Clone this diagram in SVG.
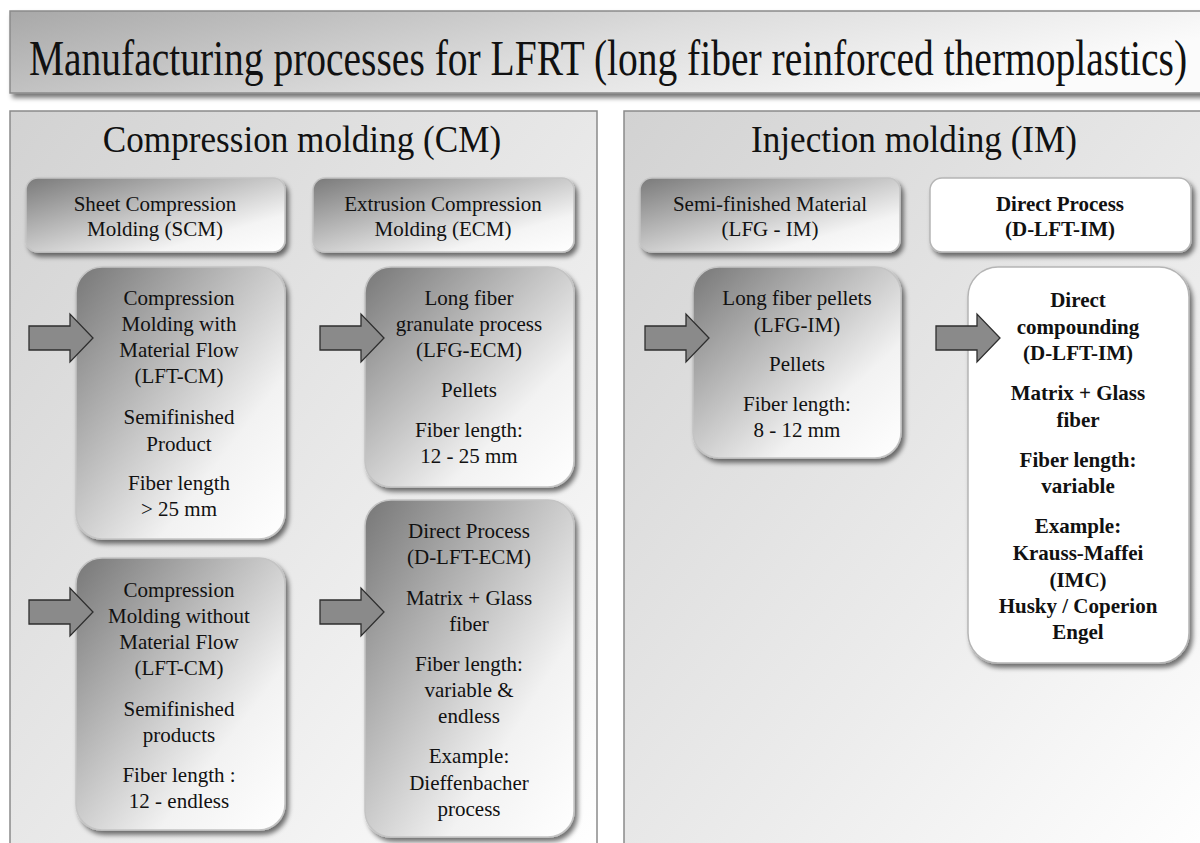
<svg xmlns="http://www.w3.org/2000/svg" width="1200" height="843" viewBox="0 0 1200 843">
  <defs>
    <linearGradient id="gTitle" x1="0" y1="0" x2="1" y2="0.3">
      <stop offset="0" stop-color="#a8a8a8"/>
      <stop offset="0.55" stop-color="#dcdcdc"/>
      <stop offset="1" stop-color="#fbfbfb"/>
    </linearGradient>
    <linearGradient id="gPanel" x1="0" y1="0" x2="1" y2="1">
      <stop offset="0" stop-color="#d2d2d2"/>
      <stop offset="0.6" stop-color="#ececec"/>
      <stop offset="1" stop-color="#ffffff"/>
    </linearGradient>
    <linearGradient id="gBox" x1="0" y1="0" x2="1" y2="1">
      <stop offset="0" stop-color="#777777"/>
      <stop offset="0.7" stop-color="#f2f2f2"/>
      <stop offset="1" stop-color="#ffffff"/>
    </linearGradient>
    <linearGradient id="gHead" x1="0" y1="0" x2="1" y2="1">
      <stop offset="0" stop-color="#7a7a7a"/>
      <stop offset="0.75" stop-color="#f4f4f4"/>
      <stop offset="1" stop-color="#ffffff"/>
    </linearGradient>
    <filter id="shadow" x="-10%" y="-10%" width="125%" height="125%">
      <feGaussianBlur in="SourceAlpha" stdDeviation="2.5"/>
      <feOffset dx="3" dy="4" result="b"/>
      <feComponentTransfer><feFuncA type="linear" slope="0.55"/></feComponentTransfer>
      <feMerge><feMergeNode/><feMergeNode in="SourceGraphic"/></feMerge>
    </filter>
    <path id="arrowShape" d="M0,-12 H41 V-24 L64,0 L41,24 V12 H0 Z"/>
  </defs>
  <style>
    text { fill: #111; text-anchor: middle; }
    .t { font-size: 21px; }
    .b { font-size: 21px; font-weight: bold; }
    .panel { fill: url(#gPanel); stroke: #8a8a8a; stroke-width: 1.5; }
    .head { fill: url(#gHead); stroke: #c4c4c4; stroke-width: 1.5; filter: url(#shadow); }
    .box { fill: url(#gBox); stroke: #c4c4c4; stroke-width: 1.5; filter: url(#shadow); }
    .white { fill: #ffffff; stroke: #b5b5b5; stroke-width: 1.5; filter: url(#shadow); }
    .arrow { fill: #8a8a8a; stroke: #2e2e2e; stroke-width: 1.3; }
  </style>

  <rect width="1200" height="843" fill="#ffffff"/>

  <g font-family="Liberation Serif, DejaVu Serif, Times New Roman, serif">

  <!-- Title bar -->
  <g id="title">
    <rect x="10" y="11" width="1205" height="82" fill="url(#gTitle)" stroke="#8a8a8a" stroke-width="1.5" filter="url(#shadow)"/>
    <text font-size="50" transform="translate(608,75) scale(0.79,1)">Manufacturing processes for LFRT (long fiber reinforced thermoplastics)</text>
  </g>

  <!-- Compression molding panel -->
  <g id="panel-cm">
    <rect class="panel" x="10" y="111" width="587" height="745"/>
    <text font-size="37" transform="translate(302,152) scale(0.95,1)">Compression molding (CM)</text>
  </g>

  <!-- Injection molding panel -->
  <g id="panel-im">
    <rect class="panel" x="624" y="111" width="590" height="745"/>
    <text font-size="37" transform="translate(914,152) scale(0.95,1)">Injection molding (IM)</text>
  </g>

  <g id="scm">
    <rect class="head" x="26" y="178" width="259" height="74" rx="12"/>
    <text class="t" x="155" y="211">Sheet Compression</text>
    <text class="t" x="155" y="236">Molding (SCM)</text>
  </g>

  <g id="ecm">
    <rect class="head" x="313" y="178" width="261" height="74" rx="12"/>
    <text class="t" x="443" y="211">Extrusion Compression</text>
    <text class="t" x="443" y="236">Molding (ECM)</text>
  </g>

  <g id="lft-cm-flow">
    <rect class="box" x="76" y="267" width="209" height="272" rx="26"/>
    <text class="t" x="179" y="305">Compression</text>
    <text class="t" x="179" y="331">Molding with</text>
    <text class="t" x="179" y="357">Material Flow</text>
    <text class="t" x="179" y="383">(LFT-CM)</text>
    <text class="t" x="179" y="424">Semifinished</text>
    <text class="t" x="179" y="451">Product</text>
    <text class="t" x="179" y="490">Fiber length</text>
    <text class="t" x="179" y="516">&gt; 25 mm</text>
  </g>

  <g id="lft-cm-noflow">
    <rect class="box" x="76" y="558" width="209" height="272" rx="26"/>
    <text class="t" x="179" y="597">Compression</text>
    <text class="t" x="179" y="623">Molding without</text>
    <text class="t" x="179" y="649">Material Flow</text>
    <text class="t" x="179" y="675">(LFT-CM)</text>
    <text class="t" x="179" y="716">Semifinished</text>
    <text class="t" x="179" y="742">products</text>
    <text class="t" x="179" y="782">Fiber length :</text>
    <text class="t" x="179" y="808">12 - endless</text>
  </g>

  <g id="lfg-ecm">
    <rect class="box" x="365" y="267" width="209" height="220" rx="26"/>
    <text class="t" x="469" y="305">Long fiber</text>
    <text class="t" x="469" y="331">granulate process</text>
    <text class="t" x="469" y="357">(LFG-ECM)</text>
    <text class="t" x="469" y="397">Pellets</text>
    <text class="t" x="469" y="437">Fiber length:</text>
    <text class="t" x="469" y="463">12 - 25 mm</text>
  </g>

  <g id="d-lft-ecm">
    <rect class="box" x="365" y="500" width="209" height="337" rx="26"/>
    <text class="t" x="469" y="538">Direct Process</text>
    <text class="t" x="469" y="564">(D-LFT-ECM)</text>
    <text class="t" x="469" y="605">Matrix + Glass</text>
    <text class="t" x="469" y="631">fiber</text>
    <text class="t" x="469" y="671">Fiber length:</text>
    <text class="t" x="469" y="697">variable &amp;</text>
    <text class="t" x="469" y="723">endless</text>
    <text class="t" x="469" y="763">Example:</text>
    <text class="t" x="469" y="790">Dieffenbacher</text>
    <text class="t" x="469" y="816">process</text>
  </g>

  <g id="lfg-im-head">
    <rect class="head" x="640" y="178" width="260" height="74" rx="12"/>
    <text class="t" x="770" y="211">Semi-finished Material</text>
    <text class="t" x="770" y="236">(LFG - IM)</text>
  </g>

  <g id="d-lft-im-head">
    <rect class="white" x="930" y="178" width="261" height="74" rx="12"/>
    <text class="b" x="1060" y="211">Direct Process</text>
    <text class="b" x="1060" y="236">(D-LFT-IM)</text>
  </g>

  <g id="lfg-im">
    <rect class="box" x="693" y="267" width="208" height="191" rx="26"/>
    <text class="t" x="797" y="305">Long fiber pellets</text>
    <text class="t" x="797" y="332">(LFG-IM)</text>
    <text class="t" x="797" y="371">Pellets</text>
    <text class="t" x="797" y="411">Fiber length:</text>
    <text class="t" x="797" y="437">8 - 12 mm</text>
  </g>

  <g id="d-lft-im">
    <rect class="white" x="968" y="267" width="221" height="396" rx="30"/>
    <text class="b" x="1078" y="307">Direct</text>
    <text class="b" x="1078" y="334">compounding</text>
    <text class="b" x="1078" y="360">(D-LFT-IM)</text>
    <text class="b" x="1078" y="400">Matrix + Glass</text>
    <text class="b" x="1078" y="427">fiber</text>
    <text class="b" x="1078" y="467">Fiber length:</text>
    <text class="b" x="1078" y="493">variable</text>
    <text class="b" x="1078" y="533">Example:</text>
    <text class="b" x="1078" y="560">Krauss-Maffei</text>
    <text class="b" x="1078" y="587">(IMC)</text>
    <text class="b" x="1078" y="613">Husky / Coperion</text>
    <text class="b" x="1078" y="639">Engel</text>
  </g>

  </g>

  <!-- Block arrows feeding each process box -->
  <g id="connectors">
    <use href="#arrowShape" class="arrow" x="29" y="338"/>
    <use href="#arrowShape" class="arrow" x="320" y="338"/>
    <use href="#arrowShape" class="arrow" x="29" y="612"/>
    <use href="#arrowShape" class="arrow" x="320" y="612"/>
    <use href="#arrowShape" class="arrow" x="645" y="338"/>
    <use href="#arrowShape" class="arrow" x="936" y="338"/>
  </g>
</svg>
